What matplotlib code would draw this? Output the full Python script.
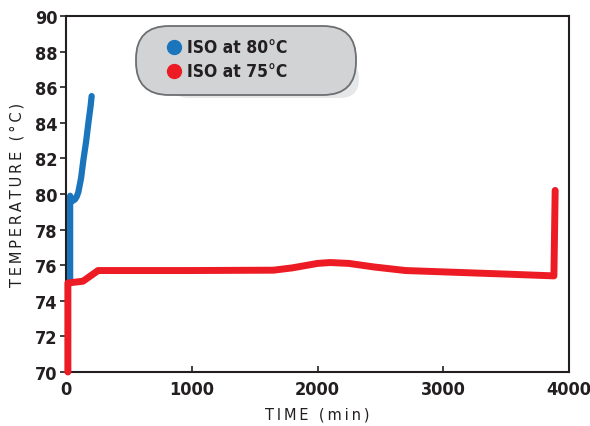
import numpy as np
import matplotlib
matplotlib.use("Agg")
import matplotlib.pyplot as plt
from matplotlib.patches import FancyBboxPatch

# data
blue_time = [33, 33, 50, 72, 85, 98, 120, 138, 160, 178, 195, 204]
blue_temp = [75.2, 79.9, 79.6, 79.7, 79.85, 80.1, 80.9, 81.9, 82.95, 84.0, 84.9, 85.5]
red_time = [15, 15, 135, 255, 1000, 1650, 1800, 2000, 2100, 2250, 2450, 2700, 3100, 3500, 3880, 3890]
red_temp = [70.0, 75.0, 75.1, 75.7, 75.7, 75.72, 75.85, 76.1, 76.15, 76.1, 75.9, 75.7, 75.6, 75.5, 75.4, 80.2]
series_labels = ['ISO at 80°C', 'ISO at 75°C']
series_colors = ['#1a75bc', '#ed1c24']
xticks = [0, 1000, 2000, 3000, 4000]
yticks = list(range(70, 91, 2))

dark = '#231f20'
cond = dict(family='DejaVu Sans', stretch='condensed', weight='bold')

fig = plt.figure(figsize=(5.9, 4.27), dpi=100)
ax = fig.add_axes([66/590, 1-373/427, 503/590, 356/427])

ax.plot(red_time, red_temp, color=series_colors[1], lw=5, solid_capstyle='round',
        solid_joinstyle='round', clip_on=False, zorder=3)
ax.plot(blue_time, blue_temp, color=series_colors[0], lw=4.5, solid_capstyle='round',
        solid_joinstyle='round', clip_on=False, zorder=2)

ax.set_xlim(0, 4000)
ax.set_ylim(70, 90)
ax.set_xticks(xticks)
ax.set_yticks(yticks)
for s in ax.spines.values():
    s.set_color(dark)
    s.set_linewidth(1.5)
ax.tick_params(axis='y', direction='out', length=4, width=1.2, color=dark, pad=2)
ax.tick_params(axis='x', direction='in', length=4, width=1.2, color=dark, pad=6)
for lab in ax.get_xticklabels() + ax.get_yticklabels():
    lab.set_family(cond['family'])
    lab.set_stretch(cond['stretch'])
    lab.set_fontweight('bold')
    lab.set_fontsize(13)
    lab.set_color(dark)

sp = '\u2009'
ax.set_ylabel(sp.join('TEMPERATURE (°C)'), fontsize=10.5, color=dark, labelpad=8)
ax.set_xlabel(sp.join('TIME (min)'), fontsize=10.5, color=dark, labelpad=6)

# pill shaped legend
lw_px, lh_px = 226, 76
lax = fig.add_axes([134/590, 1-100/427, lw_px/590, lh_px/427])
lax.set_xlim(0, lw_px)
lax.set_ylim(0, lh_px)
lax.axis('off')
shadow = FancyBboxPatch((36, 1), 189, 38, boxstyle='round,pad=0,rounding_size=19',
                        fc='#e6e7e8', ec='none', zorder=1)
lax.add_patch(shadow)
box = FancyBboxPatch((2, 4), 220, 69, boxstyle='round,pad=0,rounding_size=33',
                     fc='#d1d3d4', ec='#6d6e71', lw=1.3, zorder=2)
lax.add_patch(box)
for i, (lab, col) in enumerate(zip(series_labels, series_colors)):
    yy = 52 - i * 24
    lax.plot(40, yy, 'o', ms=10, color=col, zorder=3)
    lax.text(53, yy, lab, fontsize=12.5, color=dark, va='center', zorder=3, **cond)

fig.savefig('out.png', dpi=100)
